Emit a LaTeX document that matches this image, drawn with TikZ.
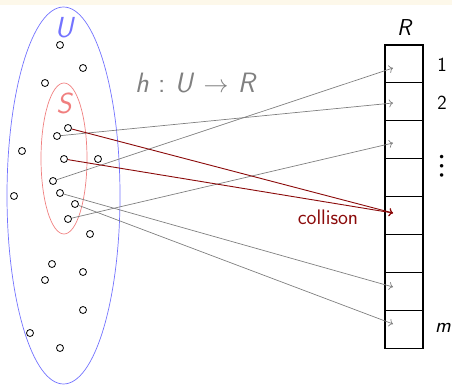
\documentclass[tikz,border=0pt]{standalone}
\usepackage{fontspec}
\usetikzlibrary{arrows.meta}
\renewcommand\familydefault{\sfdefault}
\newfontfamily\symfont{Latin Modern Math}
\definecolor{strip}{HTML}{FDF8EA}
\definecolor{ublue}{HTML}{7373FF}
\definecolor{sred}{HTML}{F07F7F}
\definecolor{darkred}{HTML}{8B0A0A}
\definecolor{mapgray}{HTML}{808080}
\tikzset{
  pt/.style={circle,draw=black,line width=0.8pt,inner sep=0pt,minimum size=7pt},
  cell/.style={rectangle,draw=black,line width=1.1pt,minimum width=38pt,minimum height=37.9pt,inner sep=0pt},
  maparrow/.style={draw=mapgray,line width=0.7pt,-{To[length=4pt,width=8pt]}},
  colarrow/.style={draw=darkred,line width=0.9pt,-{To[length=4pt,width=8pt]}},
  lbl/.style={inner sep=0pt}
}
\begin{document}
\begin{tikzpicture}[x=1pt,y=-1pt]
\useasboundingbox (0,0) rectangle (452,385);
\fill[strip] (0,0) rectangle (452,5);
% sets
\draw[ublue,line width=0.7pt] (63.5,195.5) ellipse [x radius=56.5, y radius=188.5];
\draw[sred,line width=0.7pt] (64,158.5) ellipse [x radius=23, y radius=75.5];
\node[lbl,text=ublue,font=\fontsize{29}{30}\selectfont\itshape] (lU) at (64,28) {U};
\node[lbl,text=sred,font=\fontsize{29}{30}\selectfont\itshape] (lS) at (64,103) {S};
% points
\node[pt] (p1) at (60,45) {};
\node[pt] (p2) at (83,68) {};
\node[pt] (p3) at (45,83) {};
\node[pt] (p4) at (68,128) {};
\node[pt] (p5) at (57,136) {};
\node[pt] (p6) at (22,151) {};
\node[pt] (p7) at (64,159) {};
\node[pt] (p8) at (98,159) {};
\node[pt] (p9) at (53,181) {};
\node[pt] (p10) at (60,193) {};
\node[pt] (p11) at (14,196) {};
\node[pt] (p12) at (75,204) {};
\node[pt] (p13) at (68,219) {};
\node[pt] (p14) at (90,234) {};
\node[pt] (p15) at (52,264) {};
\node[pt] (p16) at (45,280) {};
\node[pt] (p17) at (83,272) {};
\node[pt] (p18) at (83,310) {};
\node[pt] (p19) at (30,333) {};
\node[pt] (p20) at (60,348) {};
% map label
\node[lbl,text=mapgray,font=\fontsize{28}{30}\selectfont] (h) at (195,83) {\itshape h\/\upshape\,\,:\,\,\itshape U\/\upshape\,\,$\rightarrow$\,\,\itshape R};
% table
\foreach \i in {1,...,8} {
  \node[cell] (c\i) at (404,{45+37.9*(\i-0.5)}) {};
}
\node[lbl,font=\fontsize{23}{25}\selectfont\itshape] (lR) at (404,28) {R};
\node[lbl,font=\fontsize{20}{22}\selectfont] (n1) at (442,65) {1};
\node[lbl,font=\fontsize{20}{22}\selectfont] (n2) at (442,103) {2};
\node[lbl,font=\fontsize{33}{35}\symfont] (nd) at (442,166) {⋮};
\node[lbl,font=\fontsize{21}{22}\selectfont\itshape] (nm) at (443,328) {m};
% targets
\coordinate (t1) at (393,68);
\coordinate (t2) at (393,103);
\coordinate (t3) at (393,143);
\coordinate (t5) at (393,213);
\coordinate (t7) at (393,287);
\coordinate (t8) at (393,324);
% arrows
\draw[maparrow] (p9) -- (t1);
\draw[maparrow] (p5) -- (t2);
\draw[maparrow] (p13) -- (t3);
\draw[maparrow] (p10) -- (t7);
\draw[maparrow] (p12) -- (t8);
\draw[colarrow] (p4) -- (t5);
\draw[colarrow] (p7) -- (t5);
\node[lbl,text=darkred,font=\fontsize{21}{22}\selectfont] (col) at (328,217) {collison};
\end{tikzpicture}
\end{document}
